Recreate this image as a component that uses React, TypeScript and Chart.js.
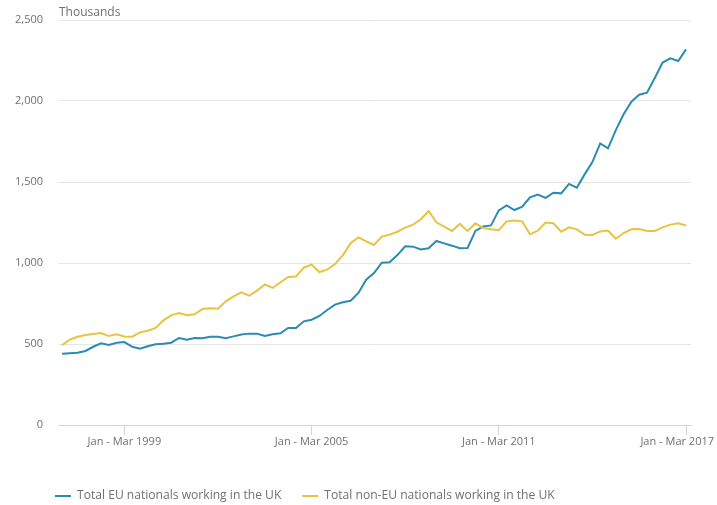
import React, { useEffect, useRef } from "react";
import { Chart, registerables } from "chart.js";

Chart.register(...registerables);

const QUARTER_NAMES = ["Jan - Mar", "Apr - Jun", "Jul - Sep", "Oct - Dec"];
const FIRST_YEAR = 1997;
const LAST_YEAR = 2017;

const QUARTERS: string[] = [];
for (let y = FIRST_YEAR; y <= LAST_YEAR; y++) {
  for (const q of QUARTER_NAMES) {
    if (y === LAST_YEAR && q !== "Jan - Mar") break;
    QUARTERS.push(`${q} ${y}`);
  }
}

const X_TICK_LABELS = ["Jan - Mar 1999", "Jan - Mar 2005", "Jan - Mar 2011", "Jan - Mar 2017"];
const Y_TICKS = [0, 500, 1000, 1500, 2000, 2500];

const EU_NATIONALS = [
  440, 443, 446, 457, 483, 504, 494, 508, 512, 483,
  471, 486, 498, 502, 508, 537, 527, 537, 535, 545,
  545, 535, 547, 558, 564, 564, 549, 560, 566, 599,
  599, 640, 650, 673, 710, 743, 758, 767, 815, 897,
  938, 1002, 1004, 1049, 1103, 1101, 1084, 1091, 1136, 1121,
  1107, 1091, 1093, 1198, 1226, 1232, 1325, 1356, 1327, 1348,
  1405, 1422, 1402, 1434, 1430, 1488, 1465, 1547, 1623, 1738,
  1708, 1820, 1918, 1996, 2039, 2051, 2142, 2237, 2263, 2247,
  2319,
];

const NON_EU_NATIONALS = [
  492, 527, 545, 556, 562, 568, 549, 560, 547, 545,
  572, 582, 599, 646, 677, 691, 677, 683, 716, 720,
  718, 763, 794, 819, 798, 829, 868, 846, 881, 914,
  916, 971, 990, 944, 959, 994, 1047, 1122, 1158, 1134,
  1111, 1163, 1175, 1193, 1218, 1237, 1270, 1321, 1251, 1224,
  1198, 1241, 1198, 1245, 1216, 1208, 1202, 1257, 1263, 1257,
  1177, 1200, 1250, 1245, 1193, 1220, 1208, 1175, 1173, 1195,
  1200, 1150, 1185, 1208, 1210, 1198, 1198, 1220, 1237, 1245,
  1232,
];

const SERIES_NAMES = ["Total EU nationals working in the UK", "Total non-EU nationals working in the UK"];
const COLORS = ["#2a8bb3", "#e8c33f"];
const TEXT = "#707070";
const FONT = '"Open Sans", "DejaVu Sans", sans-serif';

export default function App() {
  const ref = useRef<HTMLCanvasElement | null>(null);

  useEffect(() => {
    if (!ref.current) return;
    const tickIdx = X_TICK_LABELS.map((l) => QUARTERS.indexOf(l));

    const drawPlugin = {
      id: "custom-text",
      afterDraw(chart: any) {
        const ctx = chart.ctx;
        const area = chart.chartArea;
        const xs = chart.scales.x;
        ctx.save();
        ctx.fillStyle = TEXT;
        ctx.textBaseline = "middle";
        ctx.textAlign = "left";
        ctx.font = `12px ${FONT}`;
        ctx.fillText("Thousands", area.left + 1, 13);

        ctx.font = `11px ${FONT}`;
        ctx.textAlign = "center";
        xs.ticks.forEach((t: any) => {
          const label = QUARTERS[t.value];
          const px = xs.getPixelForValue(t.value);
          const w = ctx.measureText(label).width;
          const cx = Math.min(px, chart.width - 3 - w / 2);
          ctx.fillText(label, cx, area.bottom + 17);
        });

        ctx.font = `12.1px ${FONT}`;
        ctx.textAlign = "left";
        let x = 55;
        const y = 496;
        chart.data.datasets.forEach((ds: any) => {
          ctx.strokeStyle = ds.borderColor;
          ctx.lineWidth = 2;
          ctx.beginPath();
          ctx.moveTo(x, y);
          ctx.lineTo(x + 16, y);
          ctx.stroke();
          ctx.fillStyle = TEXT;
          ctx.fillText(ds.label, x + 22, y);
          x += 22 + ctx.measureText(ds.label).width + 21;
        });
        ctx.restore();
      },
    };

    const chart = new Chart(ref.current, {
      type: "line",
      data: {
        datasets: [
          {
            label: SERIES_NAMES[0],
            data: EU_NATIONALS.map((v, i) => ({ x: i, y: v })),
            borderColor: COLORS[0],
            backgroundColor: COLORS[0],
            borderWidth: 2,
            pointRadius: 0,
            tension: 0,
            order: 1,
          },
          {
            label: SERIES_NAMES[1],
            data: NON_EU_NATIONALS.map((v, i) => ({ x: i, y: v })),
            borderColor: COLORS[1],
            backgroundColor: COLORS[1],
            borderWidth: 2,
            pointRadius: 0,
            tension: 0,
            order: 0,
          },
        ],
      },
      options: {
        animation: false,
        responsive: false,
        maintainAspectRatio: false,
        layout: { padding: { top: 20, right: 26, left: 0, bottom: 0 } },
        plugins: { legend: { display: false }, tooltip: { enabled: false }, title: { display: false } },
        scales: {
          x: {
            type: "linear",
            min: -0.513,
            max: QUARTERS.length - 1 + 0.64,
            afterBuildTicks: (s: any) => {
              s.ticks = tickIdx.map((v) => ({ value: v }));
            },
            ticks: { display: false },
            grid: { drawOnChartArea: false, drawTicks: true, tickLength: 10, color: "#ccd6eb", lineWidth: 1 },
            border: { display: true, color: "#ccd6eb", width: 1 },
            afterFit: (s: any) => {
              s.height = 80;
              s.paddingLeft = 0;
              s.paddingRight = 0;
            },
          },
          y: {
            type: "linear",
            min: Y_TICKS[0],
            max: Y_TICKS[Y_TICKS.length - 1],
            afterBuildTicks: (s: any) => {
              s.ticks = Y_TICKS.map((v) => ({ value: v }));
            },
            ticks: {
              color: TEXT,
              font: { family: FONT, size: 11 },
              padding: 15,
              callback: (v: any) => Number(v).toLocaleString("en-US"),
            },
            grid: {
              drawTicks: false,
              color: (c: any) => (c.tick && c.tick.value === 0 ? "rgba(0,0,0,0)" : "#e6e6e6"),
              lineWidth: 1,
            },
            border: { display: false },
            afterFit: (s: any) => {
              s.width = 58;
              s.paddingTop = 0;
              s.paddingBottom = 0;
            },
          },
        },
      },
      plugins: [drawPlugin],
    });
    return () => chart.destroy();
  }, []);

  return (
    <div style={{ position: "absolute", left: 0, top: 0, width: 717, height: 505, background: "#fff" }}>
      <canvas ref={ref} width={717} height={505} style={{ width: 717, height: 505, display: "block" }} />
    </div>
  );
}
